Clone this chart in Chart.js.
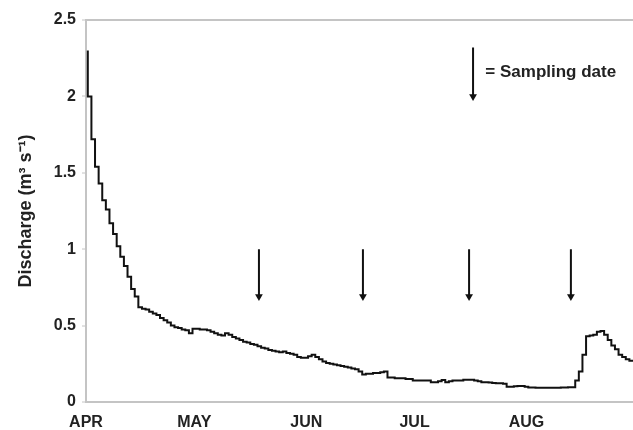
<!DOCTYPE html>
<html>
<head>
<meta charset="utf-8">
<script src="https://cdn.jsdelivr.net/npm/chart.js@4"></script>
<style>
  body { margin: 0; background: #fff; }
  #wrap { width: 633px; height: 430px; position: relative; }
</style>
</head>
<body>
<div id="wrap"><canvas id="flowChart"></canvas></div>
<script>
// daily discharge (m3/s), day 0 = 1 April
var discharge = [
  2.30, 2.00, 1.72, 1.54, 1.43, 1.32, 1.26, 1.17, 1.10, 1.02,
  0.95, 0.89, 0.82, 0.74, 0.69, 0.62, 0.61, 0.605, 0.59, 0.58,
  0.57, 0.55, 0.535, 0.52, 0.50, 0.49, 0.485, 0.475, 0.47, 0.45,
  0.48, 0.48, 0.475, 0.475, 0.47, 0.46, 0.45, 0.44, 0.435, 0.45,
  0.44, 0.425, 0.415, 0.405, 0.395, 0.39, 0.38, 0.375, 0.365, 0.355,
  0.35, 0.34, 0.335, 0.33, 0.325, 0.33, 0.32, 0.315, 0.31, 0.295,
  0.29, 0.29, 0.30, 0.31, 0.295, 0.28, 0.265, 0.255, 0.25, 0.245,
  0.24, 0.235, 0.23, 0.225, 0.22, 0.215, 0.20, 0.18, 0.185, 0.185,
  0.19, 0.19, 0.195, 0.20, 0.16, 0.16, 0.155, 0.155, 0.155, 0.15,
  0.15, 0.14, 0.14, 0.14, 0.14, 0.14, 0.13, 0.13, 0.135, 0.144,
  0.13, 0.135, 0.14, 0.14, 0.14, 0.145, 0.145, 0.145, 0.14, 0.135,
  0.13, 0.13, 0.128, 0.125, 0.122, 0.122, 0.12, 0.10, 0.10, 0.103,
  0.105, 0.105, 0.10, 0.095, 0.095, 0.094, 0.094, 0.093, 0.093, 0.094,
  0.094, 0.094, 0.095, 0.095, 0.096, 0.096, 0.14, 0.20, 0.31, 0.43,
  0.435, 0.44, 0.46, 0.465, 0.44, 0.405, 0.37, 0.345, 0.31, 0.295,
  0.28, 0.27
];
var monthDays = [0, 30, 61, 91, 122];
var monthLabels = ['APR', 'MAY', 'JUN', 'JUL', 'AUG'];
var yTicks = [0, 0.5, 1, 1.5, 2, 2.5];
var samplingDays = [47.9, 76.7, 106.1, 134.3];
var arrowTop = 1.0, arrowHead = 0.69;
// legend key arrow
var keyDay = 107.2, keyTop = 2.32, keyHead = 2.0;
var keyText = '= Sampling date';
var keyTextPos = { x: 110.6, y: 2.16 };

var ink = '#111';
var axisGrey = '#c4c4c4';
var labelFont = { family: 'Liberation Sans, Arial, sans-serif', size: 16, weight: 'bold' };

function arrowSet(day, top, head) {
  return {
    data: [{ x: day, y: top }, { x: day, y: head }],
    borderColor: ink,
    borderWidth: 2,
    pointStyle: 'triangle',
    pointRotation: 180,
    pointRadius: [0, 4.5],
    pointBackgroundColor: ink,
    pointBorderWidth: 0
  };
}

var datasets = [{
  data: discharge.map((v, k) => ({ x: k + 0.5, y: v })),
  borderColor: ink,
  borderWidth: 2,
  stepped: 'after',
  pointRadius: 0
}];
samplingDays.forEach(d => datasets.push(arrowSet(d, arrowTop, arrowHead)));
datasets.push(arrowSet(keyDay, keyTop, keyHead));

// "= Sampling date" text next to the key arrow
const keyLabel = {
  id: 'keyLabel',
  afterDatasetsDraw(chart) {
    const { ctx, scales } = chart;
    ctx.save();
    ctx.font = 'bold 17px "Liberation Sans", Arial, sans-serif';
    ctx.fillStyle = '#222';
    ctx.textAlign = 'left';
    ctx.textBaseline = 'middle';
    ctx.fillText(keyText, scales.x.getPixelForValue(keyTextPos.x), scales.y.getPixelForValue(keyTextPos.y));
    ctx.restore();
  }
};

new Chart(document.getElementById('flowChart'), {
  type: 'line',
  data: { datasets: datasets },
  plugins: [keyLabel],
  options: {
    animation: false,
    responsive: true,
    maintainAspectRatio: false,
    layout: { autoPadding: false, padding: { top: 20, right: 0, bottom: 0, left: 0 } },
    plugins: { legend: { display: false }, tooltip: { enabled: false } },
    scales: {
      x: {
        type: 'linear',
        min: 0,
        max: 151.5,
        afterBuildTicks: (s) => { s.ticks = monthDays.map(v => ({ value: v })); },
        afterFit: (s) => { s.height = 28; },
        ticks: {
          callback: (val) => monthLabels[monthDays.indexOf(val)],
          font: labelFont,
          color: '#222',
          padding: 11,
          maxRotation: 0,
          autoSkip: false
        },
        grid: { display: false, drawTicks: false },
        border: { color: axisGrey, width: 2 }
      },
      y: {
        min: 0,
        max: 2.5,
        afterBuildTicks: (s) => { s.ticks = yTicks.map(v => ({ value: v })); },
        afterFit: (s) => { s.width = 86; },
        ticks: { font: labelFont, color: '#222', padding: 6, callback: (v) => String(v) },
        grid: {
          color: (c) => c.tick && c.tick.value === 2.5 ? axisGrey : 'transparent',
          lineWidth: 2,
          tickColor: axisGrey,
          tickLength: 4,
          tickWidth: 1
        },
        border: { color: axisGrey, width: 2 },
        title: {
          display: true,
          text: 'Discharge (m³ s⁻¹)',
          font: { family: 'Liberation Sans, Arial, sans-serif', size: 18, weight: 'bold' },
          color: '#222',
          padding: { top: 15, bottom: 0 }
        }
      }
    }
  }
});
</script>
</body>
</html>
